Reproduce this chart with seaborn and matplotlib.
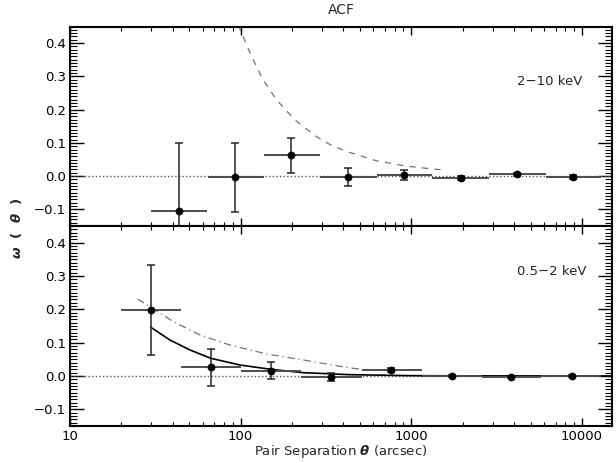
import numpy as np
import pandas as pd
import matplotlib
matplotlib.use("Agg")
import matplotlib.pyplot as plt
import seaborn as sns
from matplotlib.ticker import MultipleLocator, LogLocator, NullFormatter, FixedLocator, FixedFormatter

# ---- data: 2-10 keV ----
hard_theta = [43.7, 92.7, 198, 427, 905, 1945, 4170, 8890]
hard_w = [-0.105, -0.003, 0.063, -0.004, 0.003, -0.007, 0.005, -0.002]
hard_werr = [0.205, 0.104, 0.053, 0.027, 0.014, 0.006, 0.004, 0.006]
hard_lo = [30, 64, 137, 292, 627, 1325, 2870, 6180]
hard_hi = [63.5, 137, 291, 627, 1325, 2870, 6180, 13000]

# ---- data: 0.5-2 keV ----
soft_theta = [29.8, 67, 150.6, 338, 759, 1722, 3860, 8690]
soft_w = [0.198, 0.026, 0.016, -0.004, 0.018, 0.001, -0.002, 0.0]
soft_werr = [0.134, 0.056, 0.026, 0.012, 0.006, 0.003, 0.003, 0.003]
soft_lo = [20, 44.7, 100.5, 226, 512, 1148, 2580, 5790]
soft_hi = [44.7, 100.5, 226, 512, 1148, 2580, 5790, 13000]

# ---- model curves ----
dash_theta = [96.8, 116, 135.5, 162.5, 208, 279, 334, 418, 627, 938, 1250, 1575]
dash_w = [0.455, 0.359, 0.289, 0.229, 0.169, 0.118, 0.095, 0.074, 0.046, 0.030, 0.023, 0.018]

solid_theta = [29.8, 38.5, 50.5, 67, 99, 150.6, 233, 437, 1000, 3000, 15000]
solid_w = [0.146, 0.108, 0.078, 0.053, 0.033, 0.020, 0.010, 0.004, 0.001, 0.0003, 0.0]

dashdot_theta = [24.9, 29.8, 40.3, 57.8, 86.5, 142, 233, 427, 508]
dashdot_w = [0.231, 0.206, 0.163, 0.123, 0.093, 0.066, 0.048, 0.025, 0.020]

xticks = [10, 100, 1000, 10000]
xticklabels = ["10", "100", "1000", "10000"]
yticks = [-0.1, 0.0, 0.1, 0.2, 0.3, 0.4]
yticklabels = ["\u22120.1", "0.0", "0.1", "0.2", "0.3", "0.4"]

sns.set_theme(style="ticks")
plt.rcParams['font.family'] = ['DejaVu Sans']
plt.rcParams['mathtext.fontset'] = 'dejavusans'

fig = plt.figure(figsize=(6.16, 4.63), dpi=100)
axL = 70 / 616
axW = 542 / 616
ax1 = fig.add_axes([axL, 1 - 226 / 463, axW, 199.5 / 463])
ax2 = fig.add_axes([axL, 1 - 426 / 463, axW, 200 / 463])

def draw_panel(ax, th, w, werr, lo, hi):
    th = np.array(th); w = np.array(w)
    xerr = np.vstack([th - np.array(lo), np.array(hi) - th])
    ax.errorbar(th, w, xerr=xerr, fmt='none', ecolor='0.3', elinewidth=1.4, capsize=0, zorder=3)
    ax.errorbar(th, w, yerr=werr, fmt='none', ecolor='0.15', elinewidth=1.1, capsize=3, capthick=1.1, zorder=3)
    sns.scatterplot(x=th, y=w, ax=ax, color='black', s=26, edgecolor='black', linewidth=0.5, zorder=4)
    ax.axhline(0.0, color='0.35', linestyle=(0, (1, 1.6)), linewidth=1.0, zorder=1)

draw_panel(ax1, hard_theta, hard_w, hard_werr, hard_lo, hard_hi)
draw_panel(ax2, soft_theta, soft_w, soft_werr, soft_lo, soft_hi)

sns.lineplot(x=dash_theta, y=dash_w, ax=ax1, color='0.45', linewidth=0.9, estimator=None, sort=False,
             linestyle=(0, (5, 5)))
sns.lineplot(x=solid_theta, y=solid_w, ax=ax2, color='black', linewidth=1.2, estimator=None, sort=False)
sns.lineplot(x=dashdot_theta, y=dashdot_w, ax=ax2, color='0.45', linewidth=0.9, estimator=None, sort=False,
             linestyle=(0, (6, 3, 1, 3)))

for ax in (ax1, ax2):
    ax.set_xscale('log')
    ax.set_xlim(10, 15000)
    ax.set_ylim(-0.15, 0.45)
    ax.xaxis.set_major_locator(FixedLocator(xticks))
    ax.xaxis.set_minor_locator(LogLocator(base=10, subs=np.arange(2, 10), numticks=20))
    ax.xaxis.set_minor_formatter(NullFormatter())
    ax.yaxis.set_major_locator(FixedLocator(yticks))
    ax.yaxis.set_major_formatter(FixedFormatter(yticklabels))
    ax.yaxis.set_minor_locator(MultipleLocator(0.01))
    ax.tick_params(which='both', direction='in', top=True, right=True, colors='black',
                   labelsize=9.5, pad=3)
    ax.tick_params(axis='y', which='major', length=10, width=1.0)
    ax.tick_params(axis='y', which='minor', length=5, width=0.8)
    ax.tick_params(axis='x', which='major', length=6, width=1.0)
    ax.tick_params(axis='x', which='minor', length=3, width=0.8)
    for sp in ax.spines.values():
        sp.set_linewidth(1.5)
        sp.set_color('black')
        sp.set_visible(True)
    ax.set_xlabel('')
    ax.set_ylabel('')
    ax.set_facecolor('white')

ax1.tick_params(axis='x', labelbottom=False)
ax2.xaxis.set_major_formatter(FixedFormatter(xticklabels))

ax1.text(0.825, 0.722, "2\u221210 keV", transform=ax1.transAxes, fontsize=9.5, va='center', ha='left')
ax2.text(0.825, 0.771, "0.5\u22122 keV", transform=ax2.transAxes, fontsize=9.5, va='center', ha='left')

fig.text(341 / 616, 1 - 10 / 463, "ACF", ha='center', va='center', fontsize=10)
fig.text(341 / 616, 1 - 451 / 463, "Pair Separation $\\boldsymbol{\\theta}$ (arcsec)",
         ha='center', va='center', fontsize=9.5)
fig.text(17 / 616, 1 - 228 / 463, "$\\boldsymbol{\\omega}$  (  $\\boldsymbol{\\theta}$  )",
         ha='center', va='center', rotation=90, fontsize=9.5, fontweight='bold')

fig.savefig("out.png", dpi=100, facecolor='white')
